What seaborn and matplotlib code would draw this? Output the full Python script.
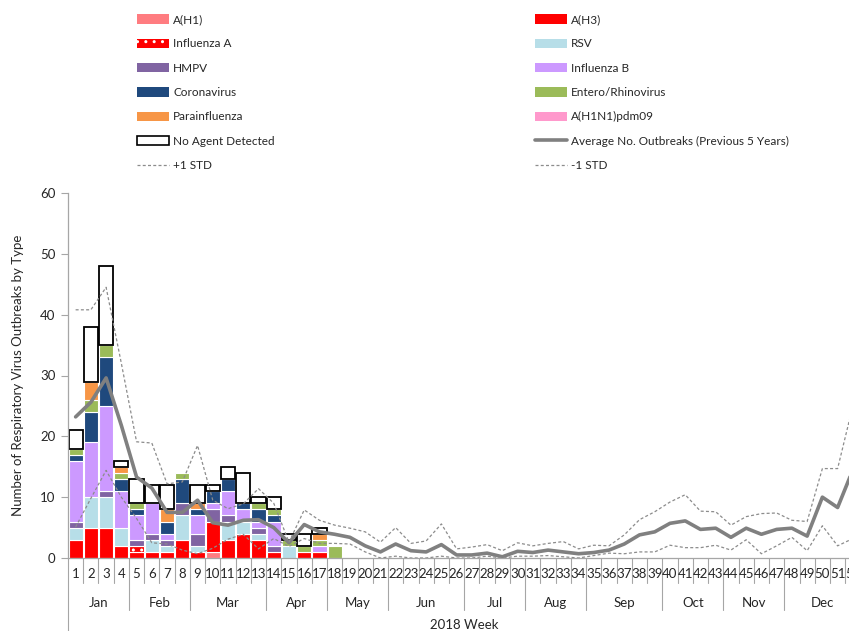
import numpy as np
import pandas as pd
import matplotlib
matplotlib.use("Agg")
import matplotlib.pyplot as plt
import matplotlib.transforms as mtransforms
from matplotlib.patches import Patch
from matplotlib.lines import Line2D
from matplotlib.colors import to_rgb
import seaborn as sns

# ---- data -------------------------------------------------------------
weeks = list(range(1, 53))
months = ["Jan", "Feb", "Mar", "Apr", "May", "Jun",
          "Jul", "Aug", "Sep", "Oct", "Nov", "Dec"]
weeks_per_month = [4, 4, 5, 4, 4, 5, 4, 4, 5, 4, 4, 5]

types = ["A(H1)", "A(H3)", "Influenza A", "RSV", "HMPV", "Influenza B",
         "Coronavirus", "Entero/Rhinovirus", "Parainfluenza",
         "A(H1N1)pdm09", "No Agent Detected"]

# outbreaks per week (weeks 1-18; no outbreaks reported afterwards)
bar_weeks = list(range(1, 19))
a_h1        = [0, 0, 0, 0, 0, 0, 0, 0, 0, 1, 0, 0, 0, 0, 0, 0, 0, 0]
a_h3        = [3, 5, 5, 2, 1, 1, 1, 3, 1, 5, 3, 4, 3, 1, 0, 1, 1, 0]
influenza_a = [0, 0, 0, 0, 1, 0, 0, 0, 0, 0, 0, 0, 0, 0, 0, 0, 0, 0]
rsv         = [2, 5, 5, 3, 0, 2, 1, 4, 1, 0, 3, 2, 1, 0, 2, 0, 0, 0]
hmpv        = [1, 0, 1, 0, 1, 1, 1, 2, 2, 2, 1, 0, 1, 1, 0, 0, 0, 0]
influenza_b = [10, 9, 14, 6, 4, 5, 1, 0, 3, 1, 4, 2, 1, 4, 0, 0, 1, 0]
coronavirus = [1, 5, 8, 2, 1, 0, 2, 4, 1, 2, 2, 1, 2, 1, 0, 0, 0, 0]
entero      = [1, 2, 2, 1, 1, 0, 0, 1, 0, 0, 0, 0, 1, 1, 1, 1, 1, 2]
parainfl    = [0, 3, 0, 1, 0, 0, 2, 0, 1, 0, 0, 0, 0, 0, 0, 0, 1, 0]
pdm09       = [0, 0, 0, 0, 0, 0, 0, 0, 0, 0, 0, 0, 0, 0, 0, 0, 0, 0]
no_agent    = [3, 9, 13, 1, 4, 3, 4, 0, 3, 1, 2, 5, 1, 2, 1, 2, 1, 0]

# previous 5-year average and +/- 1 standard deviation
avg_prev5 = [23.2, 25.6, 29.6, 21.8, 13.3, 11.5, 7.5, 7.5, 9.5, 5.8, 5.4, 6.2,
             6.3, 5.0, 2.5, 5.5, 4.3, 3.9, 3.4, 2.0, 1.0, 2.3, 1.2, 1.0, 2.2,
             0.5, 0.5, 0.8, 0.2, 1.1, 0.9, 1.3, 1.0, 0.7, 0.9, 1.3, 2.3, 3.8,
             4.3, 5.7, 6.1, 4.7, 4.9, 3.4, 4.9, 3.9, 4.7, 4.9, 3.6, 10.0, 8.3,
             14.5]
plus_std = [40.8, 40.8, 44.5, 32.0, 19.1, 18.9, 12.2, 12.5, 18.5, 9.5, 8.1,
            8.9, 11.4, 9.0, 2.6, 7.9, 6.2, 5.4, 4.9, 4.3, 2.6, 5.0, 2.4, 2.8,
            5.6, 1.5, 1.8, 2.2, 1.2, 2.5, 2.0, 2.4, 2.7, 1.5, 2.1, 2.0, 3.8,
            6.3, 7.6, 9.2, 10.4, 7.7, 7.6, 5.4, 6.8, 7.3, 7.4, 6.2, 6.0, 14.7,
            14.7, 25.0]
minus_std = [5.1, 9.8, 14.4, 10.0, 6.5, 2.5, 2.3, 1.3, 0.7, 1.6, 3.1, 3.9,
             1.5, 3.2, 1.9, 3.2, 2.4, 2.4, 2.3, 1.0, 0.0, 0.3, 0.0, 0.0, 0.3,
             0.0, 0.0, 0.3, 0.0, 0.3, 0.3, 0.4, 0.2, 0.0, 0.4, 0.8, 0.7, 1.0,
             1.0, 2.1, 1.7, 1.7, 2.1, 1.3, 3.0, 0.7, 2.0, 3.4, 1.2, 5.3, 2.0,
             3.2]

series = [a_h1, a_h3, influenza_a, rsv, hmpv, influenza_b, coronavirus,
          entero, parainfl, pdm09, no_agent]

colors = {
    "A(H1)": "#FF7C80",
    "A(H3)": "#FF0000",
    "Influenza A": "#FE0000",
    "RSV": "#B7DEE8",
    "HMPV": "#8064A2",
    "Influenza B": "#CC99FF",
    "Coronavirus": "#1F497D",
    "Entero/Rhinovirus": "#9BBB59",
    "Parainfluenza": "#F79646",
    "A(H1N1)pdm09": "#FF99CC",
    "No Agent Detected": "#FFFFFE",
}

df = pd.DataFrame(
    [(w, t, c) for t, vals in zip(types, series) for w, c in zip(bar_weeks, vals)],
    columns=["week", "type", "count"],
)

# ---- style ------------------------------------------------------------
sns.set_style("white")
plt.rcParams["font.family"] = ["Lato", "DejaVu Sans"]
plt.rcParams["hatch.linewidth"] = 1.0
FS = 8.5
GRID = "#A6A6A6"

fig = plt.figure(figsize=(8.49, 6.31), dpi=100)
W, H = 849, 631
ax_left, ax_bottom, ax_top = 68, 558, 193
ax_w = 52 * 15.24
ax = fig.add_axes([ax_left / W, (H - ax_bottom) / H, ax_w / W,
                   (ax_bottom - ax_top) / H])

# ---- stacked bars -----------------------------------------------------
# seaborn stacks the first hue level on top, so feed the order reversed
sns.histplot(data=df, x="week", weights="count", hue="type",
             hue_order=types[::-1], multiple="stack", discrete=True,
             shrink=0.93, palette=colors, edgecolor="white", linewidth=0.8,
             alpha=1, legend=False, ax=ax)

for cont in ax.containers:
    if len(cont.patches) == 0:
        continue
    fc = cont.patches[0].get_facecolor()[:3]
    for name, col in colors.items():
        if np.allclose(fc, to_rgb(col), atol=1e-3):
            break
    for p in cont.patches:
        if p.get_height() <= 0:
            p.set_visible(False)
            continue
        if name == "No Agent Detected":
            p.set_facecolor("white")
            p.set_edgecolor("black")
            p.set_linewidth(1.3)
            p.set_zorder(1.5)
        elif name == "Influenza A":
            p.set_hatch("..")

# ---- reference lines --------------------------------------------------
sns.lineplot(x=weeks, y=avg_prev5, color="#808080", linewidth=2.6, ax=ax,
             zorder=4)
for vals in (plus_std, minus_std):
    sns.lineplot(x=weeks, y=vals, color="#8C8C8C", linewidth=0.9, ax=ax,
                 linestyle=(0, (2.4, 1.8)), zorder=4)

ax.set_xlim(0.5, 52.5)
ax.set_ylim(0, 60)
ax.set_yticks(range(0, 61, 10))
ax.tick_params(axis="y", labelsize=FS + 1, length=5, color=GRID, width=0.8,
               pad=4, left=True)
ax.set_xticks(weeks)
ax.set_xticklabels([str(w) for w in weeks], fontsize=FS + 1)
ax.tick_params(axis="x", length=0, pad=7)
ax.set_xlabel("")
ax.set_ylabel("Number of Respiratory Virus Outbreaks by Type", fontsize=FS + 1)
ax.yaxis.set_label_coords(-(ax_left - 24) / ax_w, 0.5)

for s in ("top", "right"):
    ax.spines[s].set_visible(False)
for s in ("left", "bottom"):
    ax.spines[s].set_color(GRID)
    ax.spines[s].set_linewidth(0.9)

# ---- two-level category axis -----------------------------------------
ax_h = ax_bottom - ax_top
trans = mtransforms.blended_transform_factory(ax.transData, ax.transAxes)
week_sep = -25 / ax_h
month_sep = -52 / ax_h
edge_sep = -(H - ax_bottom) / ax_h

month_bounds = np.cumsum([0] + weeks_per_month)  # weeks before each month
for b in range(0, 53):
    x = b + 0.5
    if b == 0:
        y1 = edge_sep
    elif b in month_bounds:
        y1 = month_sep
    else:
        y1 = week_sep
    ax.plot([x, x], [0, y1], transform=trans, color=GRID, lw=0.8,
            clip_on=False, zorder=0)

for i, m in enumerate(months):
    center = (month_bounds[i] + month_bounds[i + 1]) / 2 + 0.5
    ax.text(center, -45 / ax_h, m, transform=trans, ha="center",
            va="center", fontsize=FS + 1)

fig.text(464 / W, 1 - 625 / H, "2018 Week", ha="center", va="center",
         fontsize=FS + 1)

# ---- legend -----------------------------------------------------------
handles = {}
for t in types:
    if t == "No Agent Detected":
        handles[t] = Patch(facecolor="white", edgecolor="black", linewidth=1.2)
    elif t == "Influenza A":
        handles[t] = Patch(facecolor=colors[t], edgecolor="white",
                           hatch="..", linewidth=0)
    else:
        handles[t] = Patch(facecolor=colors[t], edgecolor="none")
handles["Average No. Outbreaks (Previous 5 Years)"] = Line2D(
    [], [], color="#808080", lw=2.6)
handles["+1 STD"] = Line2D([], [], color="#8C8C8C", lw=0.9,
                           linestyle=(0, (2.4, 1.8)))
handles["-1 STD"] = Line2D([], [], color="#8C8C8C", lw=0.9,
                           linestyle=(0, (2.4, 1.8)))

left_col = ["A(H1)", "Influenza A", "HMPV", "Coronavirus", "Parainfluenza",
            "No Agent Detected", "+1 STD"]
right_col = ["A(H3)", "RSV", "Influenza B", "Entero/Rhinovirus",
             "A(H1N1)pdm09", "Average No. Outbreaks (Previous 5 Years)",
             "-1 STD"]

for col, x0 in ((left_col, 137), (right_col, 535)):
    fig.legend([handles[k] for k in col], col, loc="upper left",
               bbox_to_anchor=(x0 / W, 1 - 14 / H), frameon=False,
               fontsize=FS, borderpad=0, borderaxespad=0,
               handlelength=2.75, handleheight=0.85, handletextpad=0.3,
               labelspacing=1.13)

fig.savefig("out.png", dpi=100)
